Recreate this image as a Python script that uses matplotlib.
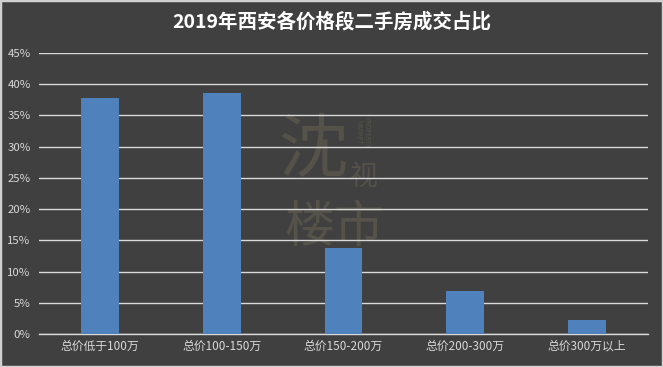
import matplotlib
matplotlib.use("Agg")
import matplotlib.pyplot as plt
from matplotlib.patches import Rectangle
from matplotlib.ticker import MultipleLocator, FuncFormatter

plt.rcParams['font.family'] = ['Noto Sans CJK SC', 'DejaVu Sans']

title = "2019年西安各价格段二手房成交占比"
categories = ["总价低于100万", "总价100-150万", "总价150-200万", "总价200-300万", "总价300万以上"]
values = [0.378, 0.386, 0.138, 0.069, 0.023]

bg = '#404040'
txt = '#d9d9d9'

fig = plt.figure(figsize=(6.63, 3.67), dpi=100, facecolor=bg)
ax = fig.add_axes([39/663, 1-334/367, (648-39)/663, (334-53)/367])
ax.set_facecolor(bg)
ax.set_zorder(1)

# watermark
wm = '#55524a'
fig.text(313/663, 1-151/367, "沈", fontsize=50, color=wm, ha='center', va='center', zorder=-1)
fig.text(334/663, 1-228/367, "楼市", fontsize=36, color=wm, ha='center', va='center', zorder=-1)
fig.text(364/663, 1-177/367, "视", fontsize=20, color=wm, ha='center', va='center', zorder=-1)
fig.text(362/663, 1-132/367, "PROPERTY\nMARKET", fontsize=4.5, color=wm, ha='center', va='center', rotation=-90, zorder=-1, linespacing=1.0)

x = list(range(len(categories)))
ax.bar(x, values, width=0.31, color='#4f81bd', zorder=3)
ax.set_xlim(-0.5, len(categories)-0.5)
ax.set_ylim(0, 0.45)
ax.yaxis.set_major_locator(MultipleLocator(0.05))
ax.yaxis.set_major_formatter(FuncFormatter(lambda v, p: f"{round(v*100)}%"))
ax.grid(axis='y', color='#d9d9d9', linewidth=1.0, zorder=1)
ax.set_axisbelow(True)
for s in ['top', 'right', 'left']:
    ax.spines[s].set_visible(False)
ax.spines['bottom'].set_color('#d9d9d9')
ax.spines['bottom'].set_linewidth(1.0)
ax.set_xticks(x)
ax.set_xticklabels(categories)
ax.tick_params(axis='x', length=0, colors=txt, labelsize=8.5, pad=4)
ax.tick_params(axis='y', length=0, colors=txt, labelsize=8.2, pad=6)
ax.patch.set_alpha(0)

fig.text(0.5, 1-22/367, title, fontsize=14, fontweight='bold', color='white', ha='center', va='center')

fig.patches.append(Rectangle((0, 0), 1, 1, transform=fig.transFigure, fill=False,
                             edgecolor='#d0d0d0', linewidth=2.5, zorder=10))

fig.savefig("out.png", dpi=100, facecolor=bg)
